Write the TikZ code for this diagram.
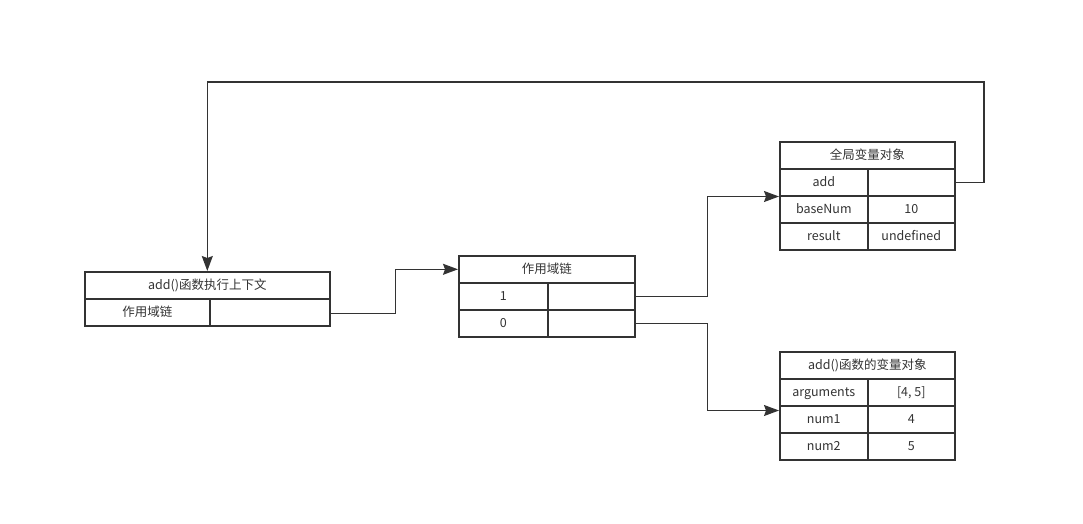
\documentclass[tikz,border=0pt]{standalone}
\usepackage{fontspec}
\newfontfamily\cjkfont{Noto Sans CJK SC}
\usepackage{xcolor}
\usepackage{tikz}
\usetikzlibrary{arrows.meta,positioning,calc}
\definecolor{inkgray}{HTML}{333333}

\begin{document}
\begin{tikzpicture}[x=1pt,y=-1pt,
  cell/.style={draw=inkgray,line width=1.6pt,minimum height=27pt,inner sep=0pt,
    anchor=north west,text=inkgray,text height=0.9em,text depth=0.07em,
    font=\cjkfont\fontsize{12.5}{14}\selectfont},
  link/.style={draw=inkgray,line width=1.3pt,-{Stealth[length=15pt,width=11pt,inset=2pt]}}]
  \useasboundingbox (0,0) rectangle (1083,523);
  % execution context
  \node[cell,minimum width=245pt] (ctxHead) at (84,271) {add()函数执行上下文};
  \node[cell,minimum width=125pt] (ctxKey) at (84,298) {作用域链};
  \node[cell,minimum width=120pt] (ctxVal) at (209,298) {};
  % scope chain
  \node[cell,minimum width=176pt] (chainHead) at (458,255) {作用域链};
  \node[cell,minimum width=89pt] (chainOneKey) at (458,282) {1};
  \node[cell,minimum width=87pt] (chainOneVal) at (547,282) {};
  \node[cell,minimum width=89pt] (chainZeroKey) at (458,309) {0};
  \node[cell,minimum width=87pt] (chainZeroVal) at (547,309) {};
  % global variable object
  \node[cell,minimum width=175pt] (globHead) at (779,141) {全局变量对象};
  \node[cell,minimum width=88pt] (globAddKey) at (779,168) {add};
  \node[cell,minimum width=87pt] (globAddVal) at (867,168) {};
  \node[cell,minimum width=88pt] (globBaseKey) at (779,195) {baseNum};
  \node[cell,minimum width=87pt] (globBaseVal) at (867,195) {10};
  \node[cell,minimum width=88pt] (globResKey) at (779,222) {result};
  \node[cell,minimum width=87pt] (globResVal) at (867,222) {undefined};
  % activation object
  \node[cell,minimum width=175pt] (actHead) at (779,351) {add()函数的变量对象};
  \node[cell,minimum width=88pt] (actArgsKey) at (779,378) {arguments};
  \node[cell,minimum width=87pt] (actArgsVal) at (867,378) {[4, 5]};
  \node[cell,minimum width=88pt] (actOneKey) at (779,405) {num1};
  \node[cell,minimum width=87pt] (actOneVal) at (867,405) {4};
  \node[cell,minimum width=88pt] (actTwoKey) at (779,432) {num2};
  \node[cell,minimum width=87pt] (actTwoVal) at (867,432) {5};
  % links
  \coordinate (loopTop) at (984,82);
  \draw[link] ($(ctxVal.east)+(0,1.5)$) -- ++(65,0) |- (chainHead.west);
  \draw[link] (chainOneVal.east) -- ++(72,0) |- ($(globBaseKey.north west)+(0,1.5)$);
  \draw[link] (chainZeroVal.east) -- ++(72,0) |- ($(actOneKey.north west)+(0,5.5)$);
  \draw[link] (globAddVal.east) -| (loopTop) -| (ctxHead.north);
\end{tikzpicture}
\end{document}
